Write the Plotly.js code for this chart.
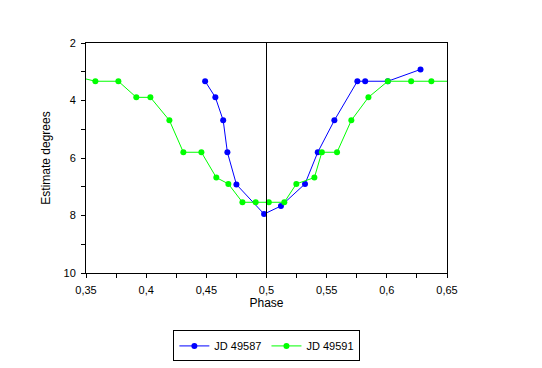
<!DOCTYPE html>
<html>
<head>
<meta charset="utf-8">
<script src="https://cdn.plot.ly/plotly-3.0.1.min.js"></script>
<style>html,body{margin:0;padding:0;background:#fff;}#chart{width:542px;height:368px;}</style>
</head>
<body>
<div id="chart"></div>
<script>
const seriesNames = ["JD 49587", "JD 49591"];
const phase49587 = [0.449, 0.4575, 0.464, 0.4675, 0.475, 0.498, 0.512, 0.532, 0.5426, 0.5564, 0.5755, 0.582, 0.6008, 0.628];
const est49587   = [3.33, 3.89, 4.69, 5.80, 6.92, 7.95, 7.67, 6.90, 5.80, 4.69, 3.33, 3.33, 3.33, 2.92];
const phase49591 = [0.33, 0.3578, 0.3769, 0.3918, 0.4035, 0.4193, 0.4309, 0.4459, 0.4583, 0.4683, 0.480, 0.491, 0.5019, 0.5148, 0.5248, 0.5398, 0.546, 0.5586, 0.5705, 0.5847, 0.6008, 0.6202, 0.637, 0.66];
const est49591   = [3.05, 3.33, 3.33, 3.89, 3.89, 4.69, 5.80, 5.80, 6.68, 6.90, 7.54, 7.54, 7.54, 7.54, 6.90, 6.68, 5.80, 5.80, 4.69, 3.89, 3.33, 3.33, 3.33, 3.33];
const markerLine = 0.5;

const font = {family: "Arial, 'Liberation Sans', sans-serif", size: 11, color: "#000"};

const traces = [
  {x: phase49587, y: est49587, name: seriesNames[0], type: "scatter", mode: "lines+markers",
   line: {color: "#0000ff", width: 1}, marker: {color: "#0000ff", size: 6, symbol: "circle"}, cliponaxis: true},
  {x: phase49591, y: est49591, name: seriesNames[1], type: "scatter", mode: "lines+markers",
   line: {color: "#00ff00", width: 1}, marker: {color: "#00ff00", size: 6, symbol: "circle"}, cliponaxis: true}
];

const layout = {
  width: 542, height: 368,
  margin: {l: 86, r: 95, t: 43, b: 95, autoexpand: false},
  paper_bgcolor: "#fff", plot_bgcolor: "#fff",
  separators: ",.",
  font: font,
  showlegend: true,
  legend: {orientation: "h", x: 0.501, xanchor: "center", y: -0.317, yanchor: "middle",
           bordercolor: "#000", borderwidth: 1, font: {family: font.family, size: 11, color: "#000"},
           itemwidth: 30, tracegroupgap: 0},
  xaxis: {range: [0.35, 0.65], dtick: 0.05, tick0: 0.35, showgrid: false, zeroline: false, automargin: false,
          showline: true, linecolor: "#000", linewidth: 1, mirror: true,
          ticks: "outside", ticklen: 4, tickcolor: "#000", ticklabelstandoff: 3,
          minor: {dtick: 0.025, ticks: "outside", ticklen: 4, tickcolor: "#000", showgrid: false},
          title: {text: "Phase", font: {family: font.family, size: 12}, standoff: 3},
          tickfont: {family: font.family, size: 11}},
  xaxis2: {range: [0.35, 0.65], overlaying: "x", anchor: "y", side: "bottom", dtick: 0.025, tick0: 0.35, automargin: false,
           showgrid: false, zeroline: false, showticklabels: false, ticks: "inside", ticklen: 4, tickcolor: "#000", showline: false},
  yaxis: {range: [10, 2], dtick: 2, tick0: 2, showgrid: false, zeroline: false, automargin: false,
          showline: true, linecolor: "#000", linewidth: 1, mirror: true,
          ticks: "outside", ticklen: 4, tickcolor: "#000", ticklabelstandoff: 3,
          minor: {dtick: 1, ticks: "outside", ticklen: 4, tickcolor: "#000", showgrid: false},
          title: {text: "Estimate degrees", font: {family: font.family, size: 12}, standoff: 10},
          tickfont: {family: font.family, size: 11}},
  yaxis2: {range: [10, 2], overlaying: "y", anchor: "x", side: "left", dtick: 1, tick0: 2, automargin: false,
           showgrid: false, zeroline: false, showticklabels: false, ticks: "inside", ticklen: 4, tickcolor: "#000", showline: false},
  shapes: [{type: "line", xref: "x", yref: "paper", x0: markerLine, x1: markerLine, y0: 0, y1: 1,
            line: {color: "#000", width: 1}}]
};

Plotly.newPlot("chart", traces, layout, {displayModeBar: false, staticPlot: true});
</script>
</body>
</html>
